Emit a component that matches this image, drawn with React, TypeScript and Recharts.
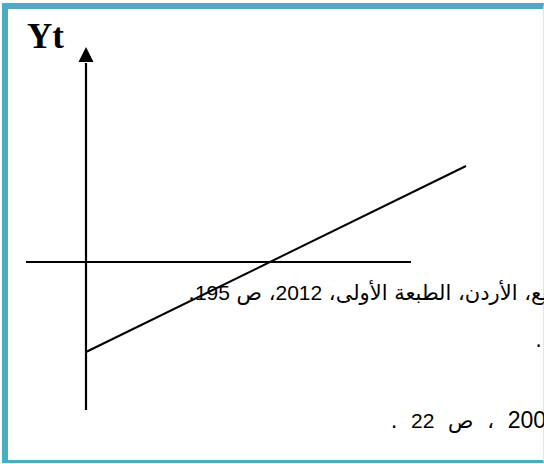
import { ComposedChart, Line, Scatter, XAxis, YAxis, ReferenceLine } from 'recharts'

// trend line Yt over t (origin = where the vertical axis meets the horizontal line)
const tValues = [0, 38]
const ytValues = [-9.0, 9.6]

// horizontal reference line (Yt = 0)
const baseFrom = -6
const baseTo = 32.5

// vertical Yt axis and arrow tip
const axisFrom = -14.8
const axisTo = 19.9
const arrowTip = 21.5

const lineData = tValues.map((t, i) => ({ t, yt: ytValues[i] }))
const arrowData = [{ t: 0, yt: arrowTip }]

const ArrowHead = (props: any) => {
  const { cx, cy } = props
  return (
    <polygon
      points={`${cx},${cy} ${cx - 7.5},${cy + 15} ${cx + 7.5},${cy + 15}`}
      fill="#000"
    />
  )
}

const arabicFont = '"DejaVu Sans", sans-serif'
const digitFont = '"Liberation Sans", Arial, sans-serif'

export default function App() {
  return (
    <div
      style={{
        position: 'absolute',
        left: 0,
        top: 0,
        width: 544,
        height: 464,
        overflow: 'hidden',
        background: '#fff',
      }}
    >
      <div
        style={{
          position: 'absolute',
          left: 2,
          top: 3,
          width: 542,
          height: 460,
          boxSizing: 'border-box',
          borderLeft: '6px solid #4BACC6',
          borderTop: '6px solid #4BACC6',
          borderBottom: '3px solid #4BACC6',
          borderRight: '1px solid #d4ebf1',
        }}
      />

      <div
        style={{
          position: 'absolute',
          left: 27,
          top: 19,
          fontFamily: '"Liberation Serif", serif',
          fontWeight: 'bold',
          fontSize: 35,
          lineHeight: 1,
          color: '#000',
        }}
      >
        Yt
      </div>

      <div style={{ position: 'absolute', left: 0, top: 0 }}>
        <ComposedChart
          width={544}
          height={464}
          data={lineData}
          margin={{ top: 0, right: 0, bottom: 0, left: 0 }}
        >
          <XAxis dataKey="t" type="number" domain={[-8.6, 45.8]} hide allowDataOverflow />
          <YAxis type="number" domain={[-20.2, 26.2]} hide allowDataOverflow />
          <ReferenceLine
            segment={[{ x: baseFrom, y: 0 }, { x: baseTo, y: 0 }]}
            stroke="#000"
            strokeWidth={2}
          />
          <ReferenceLine
            segment={[{ x: 0, y: axisFrom }, { x: 0, y: axisTo }]}
            stroke="#000"
            strokeWidth={2.2}
          />
          <Line
            dataKey="yt"
            stroke="#000"
            strokeWidth={2}
            dot={false}
            activeDot={false}
            isAnimationActive={false}
          />
          <Scatter data={arrowData} dataKey="yt" shape={ArrowHead} isAnimationActive={false} />
        </ComposedChart>
      </div>

      <div
        style={{
          position: 'absolute',
          right: -4,
          top: 279,
          direction: 'rtl',
          whiteSpace: 'nowrap',
          fontFamily: arabicFont,
          fontSize: 21,
          lineHeight: '28px',
          color: '#000',
        }}
      >
        يع، الأردن، الطبعة الأولى، <span style={{ fontFamily: digitFont, fontSize: 21 }}>2012</span>، ص{' '}
        <span style={{ fontFamily: digitFont, fontSize: 21 }}>195</span>.
      </div>

      <div
        style={{
          position: 'absolute',
          right: 2,
          top: 326,
          direction: 'rtl',
          fontFamily: arabicFont,
          fontSize: 21,
          lineHeight: '28px',
          color: '#000',
        }}
      >
        .
      </div>

      <div
        style={{
          position: 'absolute',
          right: -2,
          top: 406,
          direction: 'rtl',
          whiteSpace: 'nowrap',
          fontFamily: arabicFont,
          fontSize: 21,
          lineHeight: '28px',
          wordSpacing: 7,
          color: '#000',
        }}
      >
        <span style={{ fontFamily: digitFont, fontSize: 23, letterSpacing: 2 }}>200</span> ، ص{' '}
        <span style={{ fontFamily: digitFont, fontSize: 21 }}>22</span> .
      </div>
    </div>
  )
}
